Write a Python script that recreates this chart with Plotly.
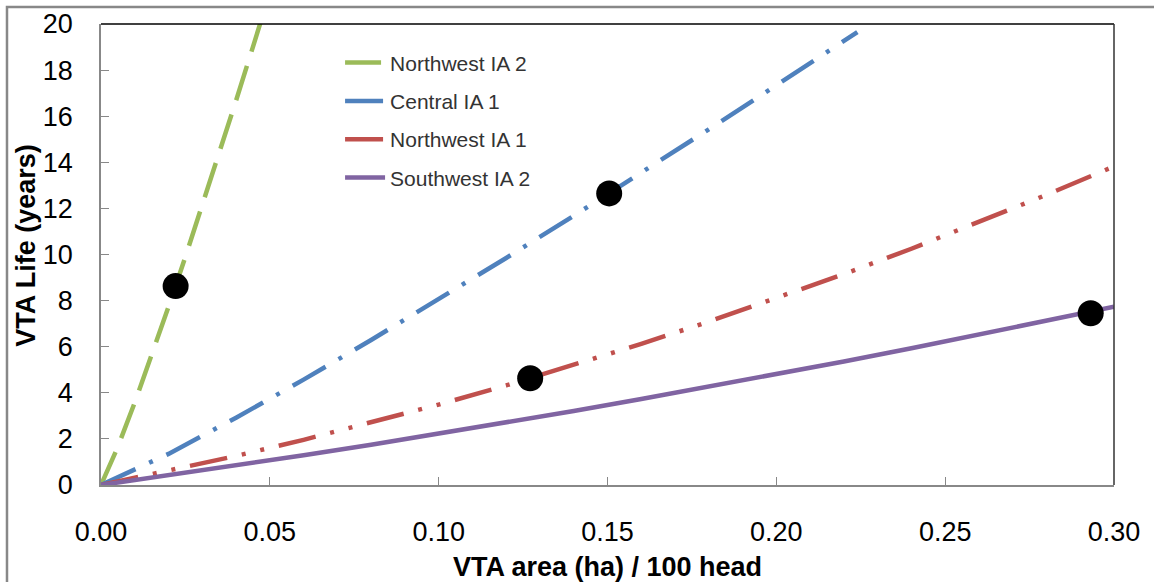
import plotly.graph_objects as go

# ---- data ----
nw2_x = [0, 0.005, 0.01, 0.015, 0.02, 0.025, 0.03, 0.035, 0.04, 0.045, 0.0475]
nw2_y = [0, 1.66, 3.58, 5.62, 7.73, 9.90, 12.12, 14.38, 16.68, 19.01, 20.19]

c1_x = [0, 0.02, 0.04, 0.06, 0.08, 0.10, 0.12, 0.14, 0.16, 0.18, 0.20, 0.22, 0.224]
c1_y = [0, 1.35, 2.92, 4.57, 6.29, 8.05, 9.85, 11.68, 13.54, 15.43, 17.34, 19.26, 19.65]

nw1_x = [0, 0.02, 0.04, 0.06, 0.08, 0.10, 0.12, 0.14, 0.16, 0.18, 0.20, 0.22, 0.24, 0.26, 0.28, 0.30]
nw1_y = [0, 0.61, 1.26, 1.96, 2.70, 3.49, 4.32, 5.20, 6.12, 7.09, 8.10, 9.15, 10.25, 11.40, 12.59, 13.82]

sw2_x = [0, 0.02, 0.04, 0.06, 0.08, 0.10, 0.12, 0.14, 0.16, 0.18, 0.20, 0.22, 0.24, 0.26, 0.28, 0.30]
sw2_y = [0, 0.42, 0.85, 1.29, 1.75, 2.23, 2.71, 3.21, 3.73, 4.26, 4.80, 5.36, 5.93, 6.52, 7.12, 7.73]

pts_x = [0.0221, 0.1505, 0.1271, 0.2931]
pts_y = [8.63, 12.65, 4.63, 7.45]

x_ticks = [0, 0.05, 0.10, 0.15, 0.20, 0.25, 0.30]
x_labels = ["0.00", "0.05", "0.10", "0.15", "0.20", "0.25", "0.30"]
y_ticks = [0, 2, 4, 6, 8, 10, 12, 14, 16, 18, 20]

FONT = "Liberation Sans, Arial, sans-serif"

fig = go.Figure()
fig.add_trace(go.Scatter(x=nw2_x, y=nw2_y, mode="lines", name="Northwest IA 2",
                         legendgroup="a",
                         line=dict(color="#9BBB59", width=4.5, dash="36px,15px")))
fig.add_trace(go.Scatter(x=c1_x, y=c1_y, mode="lines", name="Central IA 1",
                         legendgroup="b",
                         line=dict(color="#4F81BD", width=4.5, dash="38px,15px,4px,15px")))
fig.add_trace(go.Scatter(x=nw1_x, y=nw1_y, mode="lines", name="Northwest IA 1",
                         legendgroup="c",
                         line=dict(color="#C0504D", width=4.5, dash="38px,15px,4px,15px,4px,15px")))
fig.add_trace(go.Scatter(x=sw2_x, y=sw2_y, mode="lines", name="Southwest IA 2",
                         legendgroup="d",
                         line=dict(color="#8064A2", width=4.5)))
fig.add_trace(go.Scatter(x=pts_x, y=pts_y, mode="markers", showlegend=False,
                         marker=dict(color="black", size=26, symbol="circle"),
                         cliponaxis=False))

fig.update_layout(
    width=1154, height=582,
    margin=dict(l=101, r=40, t=24, b=97, autoexpand=False),
    paper_bgcolor="white", plot_bgcolor="white",
    font=dict(family=FONT, color="#000"),
    showlegend=True,
    legend=dict(x=0.236, y=0.96, xanchor="left", yanchor="top",
                font=dict(size=21, color="#333", family=FONT),
                bgcolor="rgba(0,0,0,0)", tracegroupgap=8,
                itemwidth=40),
    xaxis=dict(range=[0, 0.30], tickvals=x_ticks, ticktext=x_labels,
               ticks="inside", ticklen=8, tickcolor="#888", tickwidth=1,
               showline=True, linecolor="#888", linewidth=1.5,
               showgrid=False, zeroline=False, automargin=False,
               tickfont=dict(size=27, color="#000"), ticklabelstandoff=22,
               title=dict(text="<b>VTA area (ha) / 100 head</b>",
                          font=dict(size=27, color="#000"), standoff=12)),
    yaxis=dict(range=[0, 20], tickvals=y_ticks,
               ticks="inside", ticklen=8, tickcolor="#888", tickwidth=1,
               showline=True, linecolor="#888", linewidth=1.5,
               showgrid=False, zeroline=False, automargin=False,
               tickfont=dict(size=27, color="#000"), ticklabelstandoff=21),
    annotations=[
        dict(text="<b>VTA Life (years)</b>", xref="paper", yref="paper",
             x=-0.0735, y=0.52, xanchor="center", yanchor="middle",
             textangle=-90, showarrow=False,
             font=dict(size=27, color="#000", family=FONT)),
    ],
    shapes=[
        dict(type="line", xref="paper", yref="paper", x0=0, x1=1, y0=1, y1=1,
             line=dict(color="#000", width=1.5)),
        dict(type="line", xref="paper", yref="paper", x0=1, x1=1, y0=0, y1=1,
             line=dict(color="#333", width=1.5)),
        dict(type="rect", xref="paper", yref="paper", x0=-0.0928, x1=1.06,
             y0=-0.3, y1=1.0369, line=dict(color="#888", width=2.5),
             fillcolor="rgba(0,0,0,0)", layer="below"),
    ],
)

fig.write_html("out.html", config={"displayModeBar": False},
               post_script="document.body.style.margin='0';document.body.style.overflow='hidden';")
